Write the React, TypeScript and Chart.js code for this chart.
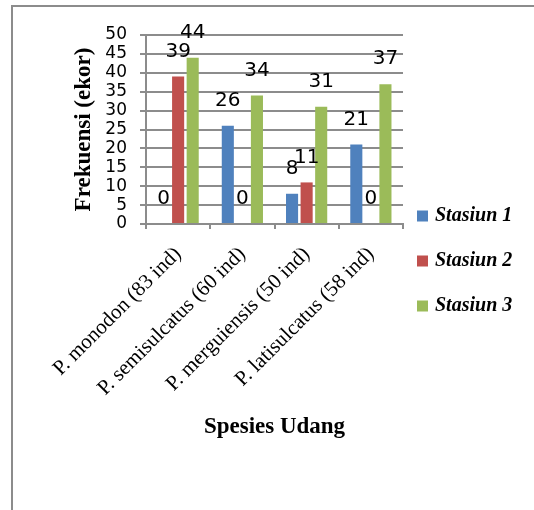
import React, { useEffect, useRef } from "react";
import { Chart, registerables } from "chart.js";

Chart.register(...registerables);

const categories = [
  "P. monodon (83 ind)",
  "P. semisulcatus (60 ind)",
  "P. merguiensis (50 ind)",
  "P. latisulcatus (58 ind)",
];
const seriesNames = ["Stasiun 1", "Stasiun 2", "Stasiun 3"];
const stasiun1 = [0, 26, 8, 21];
const stasiun2 = [39, 0, 11, 0];
const stasiun3 = [44, 34, 31, 37];
const seriesColors = ["#4F81BD", "#C0504D", "#9BBB59"];
const yMin = 0;
const yMax = 50;
const yStep = 5;
const xTitle = "Spesies Udang";
const yTitle = "Frekuensi (ekor)";

const GRID = "#8c8c8c";

const valueLabelPlugin = {
  id: "valueLabels",
  afterDatasetsDraw(chart: any) {
    const { ctx } = chart;
    ctx.save();
    ctx.font = '20px "DejaVu Sans"';
    ctx.fillStyle = "#000";
    ctx.textAlign = "center";
    ctx.textBaseline = "middle";
    chart.data.datasets.forEach((ds: any, di: number) => {
      const meta = chart.getDatasetMeta(di);
      meta.data.forEach((bar: any, i: number) => {
        ctx.fillText(String(ds.data[i]), bar.x, bar.y - 25);
      });
    });
    ctx.restore();
  },
};

const sideLegendPlugin = {
  id: "sideLegend",
  afterDraw(chart: any) {
    const { ctx, chartArea } = chart;
    ctx.save();
    ctx.font = 'italic bold 20px "Liberation Serif"';
    ctx.textBaseline = "middle";
    ctx.textAlign = "left";
    chart.data.datasets.forEach((ds: any, i: number) => {
      const cy = chartArea.bottom - 8 + i * 45;
      const bx = chartArea.right + 14;
      ctx.fillStyle = ds.backgroundColor;
      ctx.fillRect(bx, cy - 5.5, 11, 11);
      ctx.fillStyle = "#000";
      ctx.fillText(ds.label, bx + 18, cy);
    });
    ctx.restore();
  },
};

export default function App() {
  const canvasRef = useRef<HTMLCanvasElement | null>(null);

  useEffect(() => {
    if (!canvasRef.current) return;
    const seriesValues = [stasiun1, stasiun2, stasiun3];
    const chart = new Chart(canvasRef.current, {
      type: "bar",
      data: {
        labels: categories,
        datasets: seriesNames.map((name, i) => ({
          label: name,
          data: seriesValues[i],
          backgroundColor: seriesColors[i],
          borderWidth: 0,
          categoryPercentage: 0.68,
          barPercentage: 0.83,
        })),
      },
      options: {
        responsive: false,
        animation: false,
        devicePixelRatio: 1,
        layout: { padding: { top: 35, left: 0, right: 131, bottom: 0 } },
        plugins: {
          legend: { display: false },
          tooltip: { enabled: false },
        },
        scales: {
          x: {
            grid: {
              display: true,
              drawOnChartArea: false,
              drawTicks: true,
              tickLength: 5,
              color: GRID,
              lineWidth: 2,
              offset: true,
            },
            border: { display: true, color: GRID, width: 2 },
            ticks: {
              font: { family: "Liberation Serif", size: 21 },
              color: "#000",
              minRotation: 45,
              maxRotation: 45,
              autoSkip: false,
              padding: 13,
            },
            title: {
              display: true,
              text: xTitle,
              color: "#000",
              font: { family: "Liberation Serif", size: 23, weight: "bold" },
              padding: { top: 0, bottom: 69 },
            },
            afterFit: (s: any) => {
              s.height = 286;
            },
          },
          y: {
            min: yMin,
            max: yMax,
            ticks: {
              stepSize: yStep,
              autoSkip: false,
              font: { family: "DejaVu Sans", size: 17 },
              color: "#000",
              padding: 13,
            },
            grid: { color: GRID, lineWidth: 2, tickLength: 6 },
            border: { display: true, color: GRID, width: 2 },
            title: {
              display: true,
              text: yTitle,
              color: "#000",
              font: { family: "Liberation Serif", size: 23, weight: "bold" },
              padding: { top: 70, bottom: 0 },
            },
            afterFit: (s: any) => {
              s.width = 146;
            },
          },
        },
      },
      plugins: [valueLabelPlugin, sideLegendPlugin],
    } as any);
    return () => chart.destroy();
  }, []);

  return (
    <div
      style={{
        position: "absolute",
        left: 0,
        top: 0,
        width: 534,
        height: 510,
        overflow: "hidden",
        background: "#fff",
      }}
    >
      <div
        style={{
          position: "absolute",
          left: 11,
          top: 5,
          width: 700,
          height: 700,
          borderLeft: "2px solid #8c8c8c",
          borderTop: "2px solid #8c8c8c",
        }}
      />
      <canvas
        ref={canvasRef}
        width={534}
        height={510}
        style={{ position: "absolute", left: 0, top: 0, width: 534, height: 510 }}
      />
    </div>
  );
}
